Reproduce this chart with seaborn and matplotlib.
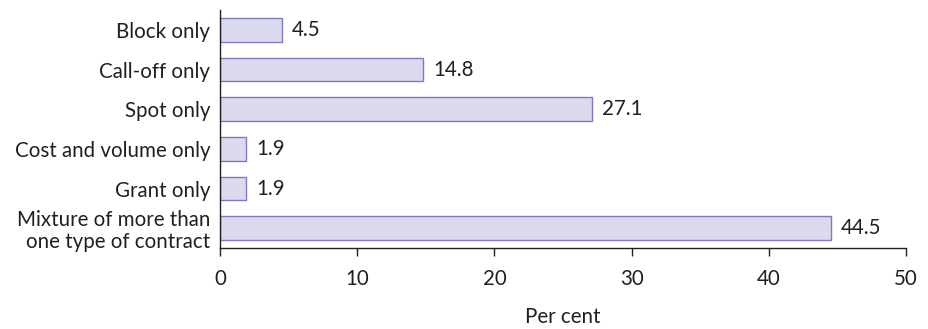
import matplotlib
matplotlib.use("Agg")
import matplotlib.pyplot as plt
import seaborn as sns
import pandas as pd

categories = [
    "Block only",
    "Call-off only",
    "Spot only",
    "Cost and volume only",
    "Grant only",
    "Mixture of more than\none type of contract",
]
values = [4.5, 14.8, 27.1, 1.9, 1.9, 44.5]
x_ticks = [0, 10, 20, 30, 40, 50]

df = pd.DataFrame({"category": categories, "value": values})

sns.set_theme(style="white")
plt.rcParams["font.family"] = ["Lato", "DejaVu Sans"]

text_color = "#231f20"
fs = 14.8
fig = plt.figure(figsize=(9.29, 3.29), dpi=100)
ax = fig.add_axes([0.2368, 0.2462, 0.9752 - 0.2368, 0.9696 - 0.2462])

sns.barplot(data=df, x="value", y="category", orient="h", ax=ax,
            color="#dcdaee", edgecolor="#7f7ac6", linewidth=1.0,
            width=0.6, saturation=1)

for i, v in enumerate(values):
    ax.text(v + 0.75, i, f"{v:.1f}", va="center", ha="left",
            fontsize=fs, color=text_color)

ax.set_xlim(0, 50)
ax.set_ylim(5.5, -0.5)
ax.set_xticks(x_ticks)
ax.set_xticklabels([str(t) for t in x_ticks], fontsize=fs, color=text_color)
ax.tick_params(axis="x", length=6, width=1, color="#231f20", pad=9, direction="out", bottom=True)
ax.tick_params(axis="y", length=0, pad=7, labelsize=fs, labelcolor=text_color)
for lbl in ax.get_yticklabels():
    lbl.set_linespacing(1.1)
ax.set_ylabel("")
ax.set_xlabel("Per cent", fontsize=fs, color=text_color, labelpad=13)

for side in ["top", "right"]:
    ax.spines[side].set_visible(False)
for side in ["left", "bottom"]:
    ax.spines[side].set_color("#231f20")
    ax.spines[side].set_linewidth(1.0)

fig.savefig("out.png", dpi=100)
